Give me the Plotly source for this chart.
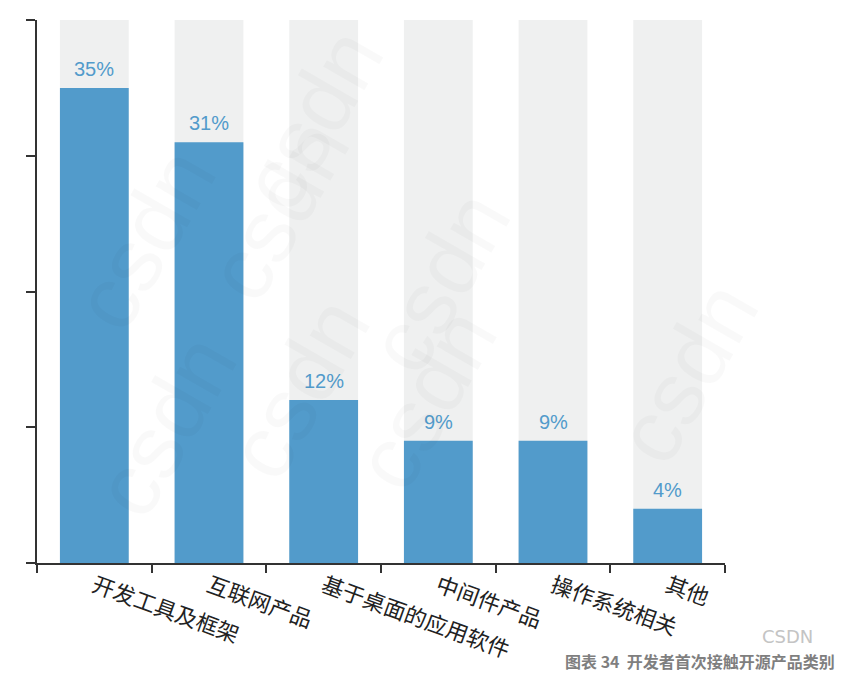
import plotly.graph_objects as go

categories = ['开发工具及框架', '互联网产品', '基于桌面的应用软件', '中间件产品', '操作系统相关', '其他']
values = [35, 31, 12, 9, 9, 4]
background = [40, 40, 40, 40, 40, 40]
value_labels = ['35%', '31%', '12%', '9%', '9%', '4%']

blue = '#529bcb'
gray_bg = '#eff0f0'

fig = go.Figure()

# full-height gray bars behind
fig.add_trace(go.Bar(
    x=categories,
    y=background,
    marker_color=gray_bg,
    marker_line_width=0,
    width=0.6,
    hoverinfo='skip',
    showlegend=False
))

fig.add_trace(go.Bar(
    x=categories,
    y=values,
    marker_color=blue,
    marker_line_width=0,
    width=0.6,
    showlegend=False
))

# value labels above the blue bars
for cat, val, lab in zip(categories, values, value_labels):
    fig.add_annotation(
        x=cat, y=val, text=lab, showarrow=False,
        yanchor='bottom', yshift=6,
        font=dict(family='Liberation Sans, Arial', size=20, color=blue)
    )

# faint csdn watermarks
watermarks = [(0.35, 0.65), (0.02, 0.80), (0.72, 0.72), (0.40, 1.02),
              (0.38, 0.12), (1.08, 0.35), (0.70, 0.10), (0.05, 0.05)]
for wx, wy in watermarks:
    fig.add_annotation(
        x=wx, y=wy, xref='paper', yref='paper',
        text='csdn', showarrow=False, textangle=-60,
        font=dict(family='Liberation Sans, Arial', size=90, color='rgba(0,0,0,0.025)')
    )

# small overhang of the x axis line to the left of the y axis
fig.add_shape(type='line', xref='paper', yref='paper',
              x0=-0.015, x1=0, y0=0, y1=0,
              line=dict(color='#333333', width=2))

fig.add_annotation(
    x=1.131, y=-0.136, xref='paper', yref='paper',
    text='CSDN', showarrow=False, xanchor='right', yanchor='middle',
    font=dict(family='DejaVu Sans, Arial', size=18, color='#c4c4c4')
)
fig.add_annotation(
    x=1.163, y=-0.181, xref='paper', yref='paper',
    text='<b>图表 34  开发者首次接触开源产品类别</b>', showarrow=False,
    xanchor='right', yanchor='middle',
    font=dict(family='Noto Sans CJK SC', size=16, color='#7f7f7f')
)

fig.update_layout(
    barmode='overlay',
    width=843,
    height=680,
    margin=dict(l=29, r=126, t=12, b=125),
    plot_bgcolor='white',
    paper_bgcolor='white',
    xaxis=dict(
        showline=True,
        linecolor='#333333',
        linewidth=2,
        ticks='outside',
        tickson='boundaries',
        ticklen=8,
        tickwidth=2,
        tickcolor='#333333',
        tickangle=20,
        tickfont=dict(family='Noto Sans CJK SC', size=22, color='#222222'),
        showgrid=False,
        automargin=False
    ),
    yaxis=dict(
        range=[0, 40],
        dtick=10,
        showline=True,
        linecolor='#333333',
        linewidth=2,
        ticks='outside',
        ticklen=9,
        tickwidth=2,
        tickcolor='#333333',
        showticklabels=False,
        showgrid=False,
        zeroline=False
    )
)

fig.write_html("out.html")
